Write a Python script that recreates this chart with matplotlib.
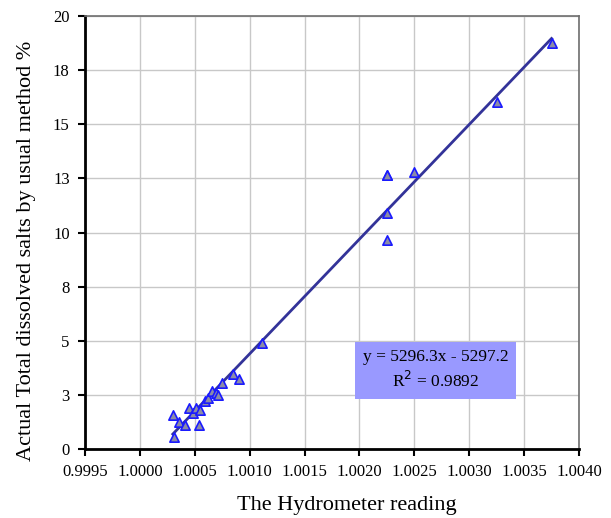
import numpy as np
import matplotlib
matplotlib.use("Agg")
import matplotlib.pyplot as plt

# hydrometer reading vs actual TDS (%)
hydro = [1.00030, 1.00031, 1.00036, 1.00041, 1.00045, 1.00048, 1.00051, 1.00054,
         1.00055, 1.00059, 1.00062, 1.00066, 1.00069, 1.00071, 1.00075, 1.00085,
         1.00090, 1.00111, 1.00225, 1.00225, 1.00225, 1.00225, 1.00250, 1.00325,
         1.00375]
tds = [1.55, 0.55, 1.25, 1.10, 1.90, 1.65, 1.90, 1.10,
       1.80, 2.20, 2.35, 2.70, 2.60, 2.50, 3.05, 3.45,
       3.25, 4.90, 12.65, 10.90, 9.65, 12.65, 12.80, 16.05,
       18.75]

slope = 5296.3
intercept = -5297.2
eq_text = "y = 5296.3x - 5297.2\nR$^2$ = 0.9892"

xticks = np.arange(0.9995, 1.00401, 0.0005)
yticks = np.arange(0, 20.1, 2.5)
ytick_labels = ["0", "3", "5", "8", "10", "13", "15", "18", "20"]

plt.rcParams['font.family'] = ['Liberation Serif', 'DejaVu Serif']

fig = plt.figure(figsize=(6.11, 5.18), dpi=100)
ax = fig.add_axes([0.1391, 0.1332, 0.8085, 0.8359])

ax.grid(True, color='#c8c8c8', linewidth=1.0, zorder=0)
ax.set_axisbelow(True)

xl = np.array([min(hydro), max(hydro)])
ax.plot(xl, slope * xl + intercept, color='#333399', linewidth=2.0, zorder=2)
ax.scatter(hydro, tds, marker='^', s=45, facecolor='#8c8ca6', edgecolor='#1a1aff',
           linewidth=1.2, zorder=3)

ax.set_xlim(0.9995, 1.0040)
ax.set_ylim(0, 20)
ax.set_xticks(xticks)
ax.set_xticklabels(["%.4f" % v for v in xticks], fontsize=12)
ax.set_yticks(yticks)
ax.set_yticklabels(ytick_labels, fontsize=12)
ax.tick_params(direction='out', length=5, width=1.5, color='black', pad=6)

for s in ['left', 'bottom']:
    ax.spines[s].set_color('black')
    ax.spines[s].set_linewidth(2)
for s in ['top', 'right']:
    ax.spines[s].set_color('#6e6e6e')
    ax.spines[s].set_linewidth(1.2)

ax.set_xlabel("The Hydrometer reading", fontsize=16)
ax.set_ylabel("Actual Total dissolved salts by usual method %", fontsize=16)
ax.xaxis.set_label_coords(0.53, -0.108)
ax.yaxis.set_label_coords(-0.10, 0.457)

ax.text(0.7095, 0.182, eq_text, transform=ax.transAxes, fontsize=12.5,
        ha='center', va='center', linespacing=1.35, zorder=5,
        bbox=dict(boxstyle='square,pad=0.45', facecolor='#9999ff', edgecolor='none'))

fig.savefig("out.png", dpi=100)
